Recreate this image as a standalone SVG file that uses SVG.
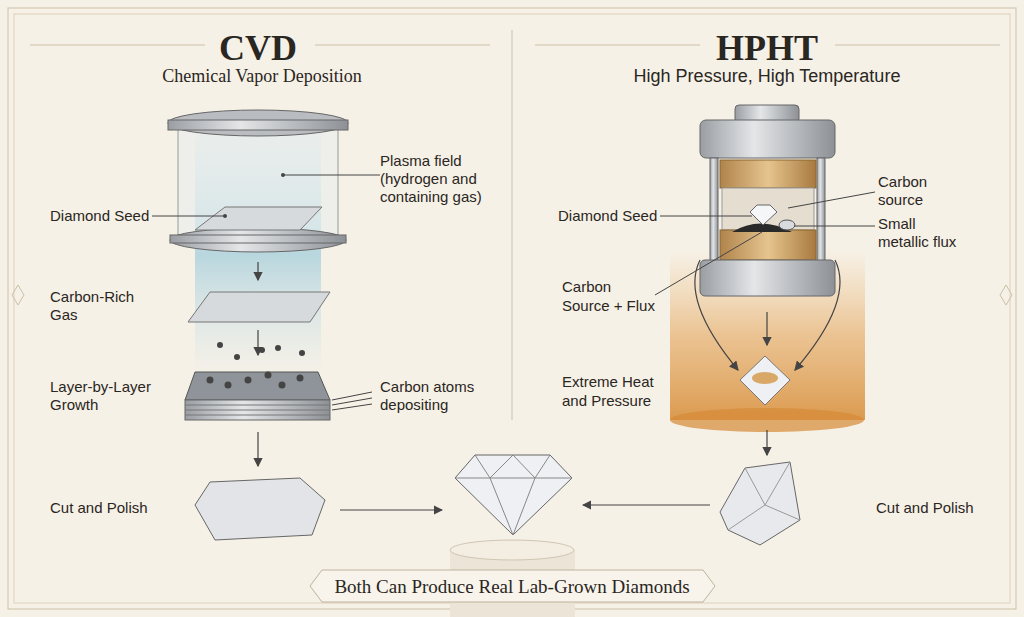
<svg xmlns="http://www.w3.org/2000/svg" width="1024" height="617" viewBox="0 0 1024 617">
<defs>
<style>
.t{font-family:"Liberation Serif","DejaVu Serif",serif;fill:#2a2622}
.s{font-family:"Liberation Sans","DejaVu Sans",sans-serif;fill:#2a2622;font-size:15px}
.ln{stroke:#444;stroke-width:1;fill:none}
.ar{stroke:#444;stroke-width:1.2;fill:none;marker-end:url(#ah)}
.metal{fill:url(#mg);stroke:#666;stroke-width:1}
</style>
<marker id="ah" markerWidth="8" markerHeight="8" refX="7" refY="4" orient="auto"><path d="M0,0 L8,4 L0,8 z" fill="#444"/></marker>
<linearGradient id="mg" x1="0" x2="1"><stop offset="0" stop-color="#9a9ea3"/><stop offset="0.4" stop-color="#e4e6e8"/><stop offset="1" stop-color="#8d9196"/></linearGradient>
<linearGradient id="plasma" x1="0" y1="0" x2="0" y2="1"><stop offset="0" stop-color="#cfe3ea" stop-opacity="0.2"/><stop offset="0.5" stop-color="#a9d0dc" stop-opacity="0.8"/><stop offset="1" stop-color="#cfe3ea" stop-opacity="0"/></linearGradient>
<linearGradient id="glow" x1="0" y1="0" x2="0" y2="1"><stop offset="0" stop-color="#e9b36a" stop-opacity="0"/><stop offset="0.5" stop-color="#e3a45a" stop-opacity="0.6"/><stop offset="1" stop-color="#d8913e" stop-opacity="0.9"/></linearGradient>
<linearGradient id="brass" x1="0" x2="1"><stop offset="0" stop-color="#b0844c"/><stop offset="0.5" stop-color="#e6c48e"/><stop offset="1" stop-color="#a87a40"/></linearGradient>
</defs>
<rect width="1024" height="617" fill="#f6f1e7"/>
<rect x="8" y="8" width="1008" height="601" fill="none" stroke="#cdbfa8" stroke-width="1"/>
<rect x="14" y="14" width="996" height="589" fill="none" stroke="#ddd0bb" stroke-width="1"/>
<g id="dividers" stroke="#cdbfa8">
<line x1="512" y1="30" x2="512" y2="420"/>
<line x1="30" y1="45" x2="205" y2="45"/><line x1="315" y1="45" x2="490" y2="45"/>
<line x1="535" y1="45" x2="700" y2="45"/><line x1="835" y1="45" x2="1000" y2="45"/>
<path d="M18,285 l6,10 -6,10 -6,-10z M1006,285 l6,10 -6,10 -6,-10z" fill="none"/>
</g>
<text class="t" x="258" y="60" font-size="36" text-anchor="middle" font-weight="bold">CVD</text>
<text class="t" x="262" y="82" font-size="18" text-anchor="middle">Chemical Vapor Deposition</text>
<text class="t" x="767" y="60" font-size="36" text-anchor="middle" font-weight="bold">HPHT</text>
<text class="s" x="767" y="82" font-size="18" text-anchor="middle" style="font-size:18px">High Pressure, High Temperature</text>

<g id="cvd-chamber">
<rect x="195" y="130" width="126" height="250" fill="url(#plasma)"/>
<rect x="178" y="128" width="160" height="108" fill="#e6eef0" fill-opacity="0.5" stroke="#999"/>
<ellipse cx="258" cy="240" rx="88" ry="12" class="metal"/>
<rect x="170" y="235" width="176" height="8" class="metal"/>
<path d="M195,230 L225,207 L322,207 L300,230 Z" fill="#d7dadd" stroke="#777"/>
<ellipse cx="258" cy="123" rx="90" ry="13" fill="#b9bcc0" stroke="#666"/>
<rect x="168" y="120" width="180" height="10" class="metal"/>
</g>
<g id="cvd-gas"><path d="M188,322 L210,292 L330,292 L310,322 Z" fill="#d7dadd" stroke="#777"/></g>
<g id="cvd-layers">
<path d="M185,400 L195,372 L318,372 L330,400 Z" fill="#8f949a" stroke="#555"/>
<rect x="185" y="400" width="145" height="20" fill="url(#mg)" stroke="#666"/>
<g stroke="#777"><line x1="185" y1="405" x2="330" y2="405"/><line x1="185" y1="410" x2="330" y2="410"/><line x1="185" y1="415" x2="330" y2="415"/></g>
<g fill="#444"><circle cx="210" cy="380" r="3.5"/><circle cx="228" cy="385" r="3.5"/><circle cx="248" cy="380" r="3.5"/><circle cx="268" cy="375" r="3.5"/><circle cx="282" cy="385" r="3.5"/><circle cx="300" cy="378" r="3.5"/>
<circle cx="220" cy="345" r="3"/><circle cx="237" cy="357" r="3"/><circle cx="262" cy="350" r="3"/><circle cx="278" cy="348" r="3"/><circle cx="302" cy="353" r="3"/></g>
</g>
<g id="cvd-rough"><path d="M195,505 L210,482 L300,478 L325,500 L312,535 L215,540 Z" fill="#e2e4e7" stroke="#666"/></g>
<g id="center-diamond">
<path d="M450,550 L450,617 L575,617 L575,550 Z" fill="#ece4d6"/>
<ellipse cx="512" cy="550" rx="62" ry="10" fill="#f3ede2" stroke="#d0c5b2"/>
<path d="M455,478 L475,455 L550,455 L572,478 L513,535 Z" fill="#eef0f3" stroke="#666"/>
<path d="M455,478 L572,478 M475,455 L490,478 L513,455 L535,478 L550,455 M490,478 L513,535 L535,478" stroke="#888" fill="none"/>
</g>
<g id="hpht-glow"><rect x="670" y="250" width="195" height="170" fill="url(#glow)"/><ellipse cx="767" cy="420" rx="97" ry="12" fill="#d68a38" opacity="0.7"/></g>
<g id="hpht-press">
<rect x="735" y="105" width="64" height="18" rx="4" class="metal"/>
<rect x="700" y="120" width="135" height="38" rx="6" class="metal"/>
<rect x="710" y="158" width="8" height="112" class="metal"/><rect x="817" y="158" width="8" height="112" class="metal"/>
<rect x="720" y="160" width="96" height="28" fill="url(#brass)" stroke="#8a6630"/>
<rect x="722" y="188" width="92" height="42" fill="#e5ddd0" stroke="#999"/>
<rect x="720" y="230" width="96" height="30" fill="url(#brass)" stroke="#8a6630"/>
<path d="M732,232 Q760,215 792,232 Z" fill="#2a2a2a"/>
<path d="M750,212 L757,205 L770,205 L777,212 L763,225 Z" fill="#f5f6f8" stroke="#666"/>
<ellipse cx="787" cy="225" rx="8" ry="5" fill="#d8dadd" stroke="#555"/>
<rect x="700" y="260" width="135" height="36" rx="5" class="metal"/>
</g>
<g id="hpht-small"><path d="M740,380 L765,356 L790,380 L765,405 Z" fill="#eef0f3" stroke="#777"/><ellipse cx="765" cy="378" rx="13" ry="6" fill="#d9a868"/></g>
<g id="hpht-rough"><path d="M720,512 L745,468 L790,462 L800,520 L760,545 L728,530 Z" fill="#e7e9ec" stroke="#666"/><path d="M745,468 L765,505 L790,462 M765,505 L728,530 M765,505 L800,520" stroke="#999" fill="none"/></g>
<g id="banner"><path d="M310,586 L322,570 L703,570 L715,586 L703,602 L322,602 Z" fill="#f8f4ec" stroke="#bfb29c"/>
<text class="t" x="512" y="593" font-size="19" text-anchor="middle">Both Can Produce Real Lab-Grown Diamonds</text></g>
<g id="connectors">
<line class="ar" x1="258" y1="262" x2="258" y2="280"/>
<line class="ar" x1="258" y1="330" x2="258" y2="355"/>
<line class="ar" x1="258" y1="432" x2="258" y2="466"/>
<line class="ar" x1="340" y1="510" x2="442" y2="510"/>
<line class="ar" x1="710" y1="505" x2="583" y2="505"/>
<line class="ar" x1="767" y1="312" x2="767" y2="345"/>
<line class="ar" x1="767" y1="430" x2="767" y2="455"/>
<path class="ar" d="M700,260 Q680,300 738,370"/><path class="ar" d="M835,260 Q855,300 795,370"/>
<line class="ln" x1="380" y1="175" x2="283" y2="175"/><circle cx="283" cy="175" r="2" fill="#444"/>
<line class="ln" x1="152" y1="216" x2="225" y2="216"/><circle cx="225" cy="216" r="2" fill="#444"/>
<path class="ln" d="M332,400 L372,392 M332,405 L372,398 M332,410 L372,404"/>
<line class="ln" x1="660" y1="216" x2="752" y2="216"/>
<line class="ln" x1="875" y1="192" x2="788" y2="208"/>
<line class="ln" x1="875" y1="226" x2="794" y2="226"/>
<line class="ln" x1="655" y1="295" x2="762" y2="232"/>
</g>
<g id="labels">
<text class="s" x="380" y="166">Plasma field</text><text class="s" x="380" y="184">(hydrogen and</text><text class="s" x="380" y="202">containing gas)</text>
<text class="s" x="50" y="221">Diamond Seed</text>
<text class="s" x="50" y="302">Carbon-Rich</text><text class="s" x="50" y="320">Gas</text>
<text class="s" x="50" y="392">Layer-by-Layer</text><text class="s" x="50" y="410">Growth</text>
<text class="s" x="380" y="392">Carbon atoms</text><text class="s" x="380" y="410">depositing</text>
<text class="s" x="50" y="513">Cut and Polish</text>
<text class="s" x="558" y="221">Diamond Seed</text>
<text class="s" x="878" y="187">Carbon</text><text class="s" x="878" y="205">source</text>
<text class="s" x="878" y="229">Small</text><text class="s" x="878" y="247">metallic flux</text>
<text class="s" x="562" y="292">Carbon</text><text class="s" x="562" y="311">Source + Flux</text>
<text class="s" x="562" y="387">Extreme Heat</text><text class="s" x="562" y="406">and Pressure</text>
<text class="s" x="876" y="513">Cut and Polish</text>
</g>
</svg>
